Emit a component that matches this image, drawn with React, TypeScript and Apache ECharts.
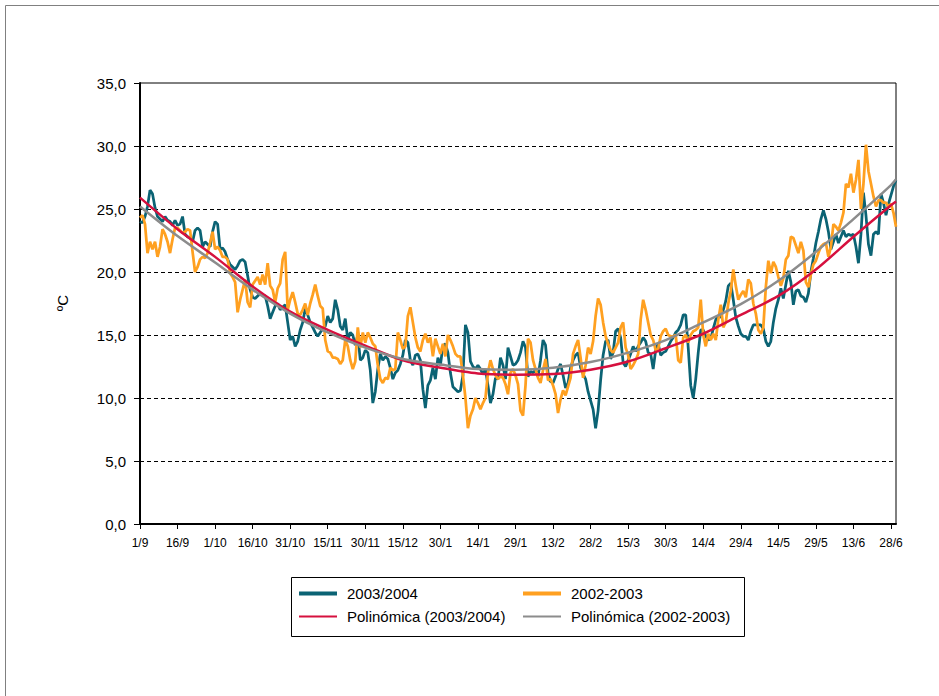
import React, { useEffect, useRef } from "react";
import * as echarts from "echarts";

// Date labels placed every 15 days along the category axis
const tickLabels = [
  "1/9", "16/9", "1/10", "16/10", "31/10", "15/11", "30/11", "15/12", "30/1", "14/1", "29/1",
  "13/2", "28/2", "15/3", "30/3", "14/4", "29/4", "14/5", "29/5", "13/6", "28/6",
];

// Daily mean temperature (ºC), 1/9 onward
const temps2003_2004 = [
  24.0, 23.9, 24.4, 25.2, 26.5, 26.2, 25.1, 24.4, 24.2, 24.0, 24.4, 24.1, 24.0, 23.7, 24.1,
  23.7, 23.8, 24.4, 23.0, 22.8, 22.7, 22.4, 23.3, 23.5, 23.3, 22.0, 22.4, 22.2, 22.0, 23.2,
  24.0, 23.8, 21.8, 21.9, 21.6, 21.0, 20.6, 20.4, 20.2, 20.5, 20.9, 21.0, 20.8, 19.7, 18.6,
  18.0, 17.9, 18.1, 18.3, 18.2, 18.1, 17.3, 16.3, 16.8, 17.3, 17.5, 17.0, 17.2, 17.4, 16.0,
  14.6, 14.9, 14.1, 14.5, 15.4, 16.0, 17.1, 16.6, 16.0, 15.6, 15.2, 14.9, 15.2, 15.5, 15.7,
  16.5, 16.0, 16.3, 17.8, 17.0, 15.7, 15.4, 16.3, 14.6, 15.2, 15.0, 14.2, 15.0, 13.0, 13.2,
  13.8, 13.6, 12.2, 9.6, 10.5, 12.3, 13.5, 13.0, 13.3, 13.1, 12.4, 11.5, 12.0, 12.2, 12.7,
  13.4, 14.6, 14.4, 13.0, 12.6, 13.4, 13.5, 13.0, 10.7, 9.2, 11.0, 11.4, 12.4, 11.5, 13.2,
  12.6, 14.1, 14.3, 13.6, 12.0, 10.9, 10.7, 10.5, 10.6, 11.8, 15.8, 15.2, 12.9, 12.5, 12.3,
  12.6, 12.3, 11.9, 12.3, 11.0, 9.6, 10.3, 11.6, 11.5, 13.2, 12.6, 11.5, 14.0, 13.3, 12.6,
  12.7, 13.0, 13.6, 14.5, 14.0, 11.7, 12.1, 12.0, 12.2, 11.7, 13.0, 14.6, 14.2, 12.0, 11.3,
  11.2, 11.7, 12.3, 12.7, 11.8, 10.8, 11.2, 12.4, 13.0, 13.4, 13.6, 12.4, 11.9, 11.5, 10.5,
  9.8, 9.1, 7.6, 9.0, 11.4, 13.4, 14.5, 14.6, 13.1, 13.6, 15.3, 15.5, 14.8, 12.8, 12.5,
  13.0, 13.5, 14.1, 13.7, 14.1, 14.4, 14.8, 14.5, 13.6, 13.5, 12.3, 13.8, 14.3, 13.4, 13.6,
  13.7, 14.1, 14.5, 14.8, 15.2, 15.4, 15.8, 16.6, 16.6, 14.0, 11.0, 10.0, 11.5, 13.6, 15.4,
  15.4, 14.9, 14.6, 14.7, 15.5, 16.2, 16.5, 16.4, 17.0, 17.7, 18.9, 19.1, 17.8, 16.4, 15.7,
  15.1, 14.9, 14.9, 14.6, 15.3, 15.8, 15.8, 15.8, 15.8, 15.5, 14.5, 14.1, 14.5, 16.0, 17.1,
  17.8, 18.7, 17.9, 19.0, 20.1, 19.2, 17.4, 18.5, 18.6, 18.1, 18.0, 17.6, 18.3, 20.0, 21.1,
  22.3, 23.2, 24.2, 24.9, 24.2, 23.2, 21.8, 22.4, 23.0, 22.3, 22.8, 23.3, 22.8, 23.0, 22.9,
  23.0, 22.0, 20.7, 23.0, 26.3, 24.5, 22.2, 21.3, 23.0, 23.2, 23.0, 26.2, 25.5, 24.5, 25.4, 26.1, 26.8, 27.3,
];

const temps2002_2003 = [
  24.3, 24.5, 23.8, 21.5, 22.4, 21.8, 22.4, 21.2, 22.0, 23.4, 23.0, 22.4, 21.5, 22.6, 23.5,
  23.5, 23.3, 23.1, 23.2, 23.4, 23.3, 21.6, 20.0, 20.4, 21.0, 21.2, 21.1, 21.5, 22.3, 23.2,
  21.8, 22.0, 21.7, 21.2, 21.2, 21.0, 19.9, 19.6, 19.2, 16.8, 17.8, 18.6, 19.4, 17.6, 17.2,
  19.0, 19.3, 19.6, 19.0, 19.8, 19.0, 20.7, 18.9, 18.6, 17.6, 18.7, 19.1, 21.0, 21.6, 17.0,
  17.8, 18.4, 17.6, 16.7, 16.6, 17.0, 17.5, 16.6, 17.5, 18.2, 19.0, 18.1, 17.3, 17.1, 14.6,
  13.7, 13.6, 13.2, 13.2, 13.1, 12.7, 13.0, 14.6, 14.1, 13.0, 12.3, 12.9, 15.6, 14.0, 15.2,
  14.4, 15.2, 14.8, 14.3, 14.1, 12.6, 11.5, 11.2, 11.6, 11.5, 12.4, 12.2, 12.3, 15.2, 14.6,
  13.9, 14.1, 16.5, 17.2, 16.0, 14.8, 14.0, 13.7, 14.6, 15.1, 14.4, 14.8, 13.3, 14.7, 14.1,
  13.5, 14.3, 13.3, 15.0, 14.6, 14.1, 13.5, 13.3, 13.3, 11.8, 10.0, 7.6, 8.6, 9.1, 10.0,
  9.6, 9.1, 9.6, 10.0, 12.0, 13.0, 12.3, 11.8, 11.5, 11.7, 11.6, 11.1, 10.3, 12.0, 12.3,
  11.8, 11.1, 9.0, 8.6, 11.0, 14.7, 14.4, 13.0, 12.3, 11.6, 11.2, 12.2, 13.1, 11.4, 11.5,
  11.0, 10.3, 8.8, 9.9, 10.6, 10.2, 10.9, 11.6, 13.5, 14.1, 14.6, 13.2, 11.6, 12.6, 14.0,
  13.5, 14.5, 16.5, 17.9, 17.4, 16.0, 14.9, 14.3, 13.8, 13.6, 14.0, 14.4, 15.6, 16.0, 14.0,
  13.4, 12.3, 12.6, 13.0, 13.5, 16.2, 17.8, 17.0, 16.0, 15.0, 14.6, 13.8, 13.9, 14.9, 15.3,
  15.5, 15.0, 14.9, 14.9, 15.0, 13.0, 12.8, 14.8, 15.0, 14.4, 15.0, 15.3, 15.4, 15.6, 17.8,
  15.0, 14.1, 15.1, 14.6, 15.1, 14.6, 16.2, 17.4, 15.6, 16.0, 17.5, 18.5, 20.2, 18.9, 17.8,
  18.2, 18.5, 18.0, 19.4, 19.1, 17.5, 16.7, 15.4, 15.1, 15.6, 18.8, 20.9, 19.9, 20.8, 20.4,
  19.6, 18.9, 19.5, 21.0, 21.3, 22.8, 22.7, 22.1, 21.5, 22.4, 21.7, 19.2, 18.8, 19.8, 20.6,
  20.9, 21.5, 22.0, 22.2, 22.3, 21.2, 22.0, 23.8, 23.6, 23.3, 23.9, 24.7, 27.0, 26.7, 27.8,
  26.3, 27.3, 28.9, 25.0, 27.0, 30.1, 28.0, 27.0, 26.0, 25.2, 25.7, 25.7, 25.5, 25.5, 25.2, 25.4, 24.7, 23.6,
];

// Polynomial trend values sampled along the season (day index → ºC)
const trendDays = [0, 15, 30, 45, 60, 75, 90, 105, 120, 135, 150, 165, 180, 195, 210, 225, 240, 255, 270, 285, 300, 302];
const trend2003_2004 = [25.9, 23.4, 21.2, 18.85, 16.85, 15.4, 14.15, 13.0, 12.4, 11.95, 11.85, 11.9, 12.25, 12.9, 13.95, 15.1, 16.6, 18.1, 20.2, 22.8, 25.3, 25.6];
const trend2002_2003 = [25.2, 22.85, 20.75, 18.6, 16.7, 15.2, 14.0, 13.1, 12.65, 12.3, 12.25, 12.4, 12.85, 13.6, 14.6, 16.0, 17.45, 19.3, 21.6, 24.2, 26.9, 27.35];

const FONT = "'Liberation Sans', Arial, sans-serif";
const TEAL = "#0B6374";
const ORANGE = "#FFA020";
const RED = "#D6103E";
const GRAY = "#8C8C8C";

export default function App() {
  const ref = useRef<HTMLDivElement>(null);

  useEffect(() => {
    if (!ref.current) return;
    const chart = echarts.init(ref.current, null, { renderer: "svg" });
    const days = temps2003_2004.map((_, i) => String(i));

    const legendItem = (name: string, left: number, top: number, h: number) => ({
      data: [{ name, icon: "rect" }],
      left,
      top,
      padding: 0,
      itemWidth: 38,
      itemHeight: h,
      selectedMode: false,
      textStyle: { fontFamily: FONT, fontSize: 15, color: "#000", padding: [0, 0, 0, 5] },
    });

    chart.setOption({
      animation: false,
      backgroundColor: "#fff",
      grid: {
        left: 140,
        top: 83,
        width: 756,
        height: 441,
        show: true,
        borderColor: "#000",
        borderWidth: 1,
        backgroundColor: "transparent",
      },
      xAxis: {
        type: "category",
        data: days,
        boundaryGap: false,
        axisLine: { lineStyle: { color: "#000", width: 2 } },
        axisTick: { interval: 14, length: 5, lineStyle: { color: "#000", width: 1 } },
        axisLabel: {
          interval: 14,
          margin: 13,
          color: "#000",
          fontFamily: FONT,
          fontSize: 12,
          formatter: (_v: string, idx: number) => tickLabels[Math.round(idx / 15)] ?? "",
        },
        splitLine: { show: false },
      },
      yAxis: {
        type: "value",
        min: 0,
        max: 35,
        interval: 5,
        axisLine: { show: true, lineStyle: { color: "#000", width: 2 } },
        axisTick: { show: true, length: 6, lineStyle: { color: "#000", width: 1 } },
        axisLabel: {
          margin: 14,
          color: "#000",
          fontFamily: FONT,
          fontSize: 15,
          formatter: (v: number) => v.toFixed(1).replace(".", ","),
        },
        splitLine: {
          show: true,
          showMinLine: false,
          showMaxLine: false,
          lineStyle: { color: "#000", width: 1, type: [4, 3] },
        },
      },
      legend: [
        legendItem("2003/2004", 299, 586, 4),
        legendItem("2002-2003", 523, 586, 4),
        legendItem("Polinómica (2003/2004)", 299, 609, 2),
        legendItem("Polinómica (2002-2003)", 523, 609, 2),
      ],
      graphic: [
        {
          type: "rect",
          shape: { x: 5.5, y: 5.5, width: 945, height: 720 },
          style: { fill: "none", stroke: "#808080", lineWidth: 1 },
          silent: true,
        },
        {
          type: "rect",
          shape: { x: 291.5, y: 577.5, width: 453, height: 59 },
          style: { fill: "none", stroke: "#000", lineWidth: 1 },
          silent: true,
        },
        {
          type: "text",
          x: 62,
          y: 303,
          rotation: Math.PI / 2,
          style: {
            text: "ºC",
            fontFamily: FONT,
            fontSize: 15,
            fill: "#000",
            align: "center",
            verticalAlign: "middle",
          },
        },
      ],
      series: [
        {
          name: "2003/2004",
          type: "line",
          data: temps2003_2004,
          showSymbol: false,
          symbol: "none",
          color: TEAL,
          lineStyle: { color: TEAL, width: 2.75 },
          z: 2,
        },
        {
          name: "2002-2003",
          type: "line",
          data: temps2002_2003,
          showSymbol: false,
          symbol: "none",
          color: ORANGE,
          lineStyle: { color: ORANGE, width: 2.75 },
          z: 3,
        },
        {
          name: "Polinómica (2003/2004)",
          type: "line",
          data: trendDays.map((d, i) => [d, trend2003_2004[i]]),
          showSymbol: false,
          symbol: "none",
          smooth: 0.3,
          color: RED,
          lineStyle: { color: RED, width: 2.5 },
          z: 4,
        },
        {
          name: "Polinómica (2002-2003)",
          type: "line",
          data: trendDays.map((d, i) => [d, trend2002_2003[i]]),
          showSymbol: false,
          symbol: "none",
          smooth: 0.3,
          color: GRAY,
          lineStyle: { color: GRAY, width: 2.5 },
          z: 5,
        },
      ],
    });

    return () => chart.dispose();
  }, []);

  return (
    <div
      ref={ref}
      style={{ position: "absolute", left: 0, top: 0, width: 939, height: 696, background: "#fff" }}
    />
  );
}
